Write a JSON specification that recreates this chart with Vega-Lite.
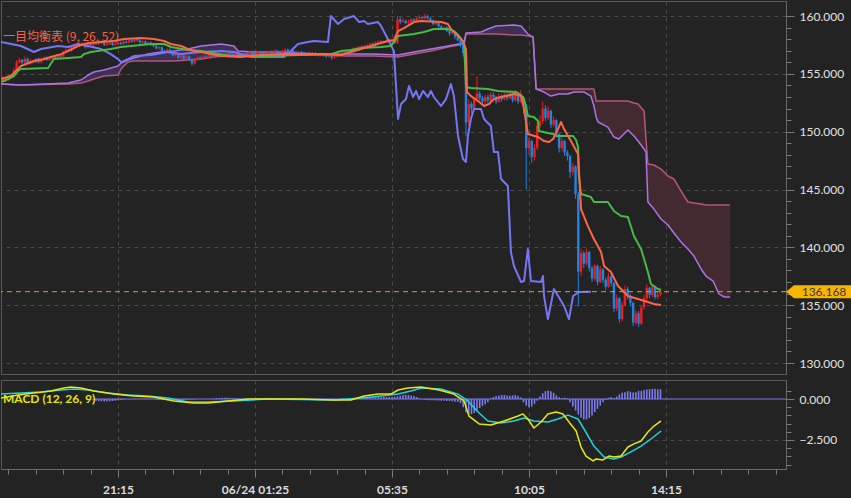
{
"$schema": "https://vega.github.io/schema/vega-lite/v6.json",
"background": "#232323",
"padding": {"left": 0, "top": 0, "right": 1, "bottom": 2},
"spacing": 6,
"bounds": "flush",
"config": {
  "view": {"stroke": "#5a5a5a", "strokeWidth": 1},
  "axis": {"labelFont": "Lato", "labelFontSize": 12, "labelColor": "#e2e2e2", "domainColor": "#6a6a6a", "tickColor": "#7a7a7a", "gridColor": "#4a4a4a", "gridDash": [4, 4], "gridWidth": 1},
  "line": {"strokeJoin": "round", "clip": true},
  "area": {"clip": true},
  "rule": {"clip": true}
},
"datasets": {
"candles": [
{"i":-42,"o":154.3,"h":154.8,"l":154.2,"c":154.6},{"i":-41,"o":154.6,"h":154.7,"l":154.3,"c":154.5},{"i":-40,"o":154.5,"h":154.9,"l":154.4,"c":154.7},{"i":-39,"o":154.7,"h":155.0,"l":154.6,"c":154.9},{"i":-38,"o":154.9,"h":155.5,"l":154.8,"c":155.3},{"i":-37,"o":155.3,"h":156.2,"l":155.2,"c":156.0},{"i":-36,"o":156.0,"h":156.4,"l":155.9,"c":156.2},{"i":-35,"o":156.2,"h":156.3,"l":155.8,"c":156.0},{"i":-34,"o":156.0,"h":156.5,"l":155.9,"c":156.3},{"i":-33,"o":156.3,"h":156.4,"l":155.8,"c":155.9},
{"i":-32,"o":155.9,"h":156.3,"l":155.8,"c":156.1},{"i":-31,"o":156.1,"h":156.2,"l":155.9,"c":156.0},{"i":-30,"o":156.0,"h":156.4,"l":155.9,"c":156.3},{"i":-29,"o":156.3,"h":156.4,"l":155.9,"c":156.0},{"i":-28,"o":156.0,"h":156.3,"l":155.9,"c":156.2},{"i":-27,"o":156.2,"h":156.5,"l":156.1,"c":156.4},{"i":-26,"o":156.4,"h":156.5,"l":156.1,"c":156.2},{"i":-25,"o":156.2,"h":156.4,"l":156.1,"c":156.3},{"i":-24,"o":156.3,"h":156.6,"l":156.2,"c":156.5},{"i":-23,"o":156.5,"h":156.6,"l":156.3,"c":156.4},
{"i":-22,"o":156.4,"h":156.7,"l":156.3,"c":156.6},{"i":-21,"o":156.6,"h":156.7,"l":156.4,"c":156.5},{"i":-20,"o":156.5,"h":157.0,"l":156.4,"c":156.9},{"i":-19,"o":156.9,"h":157.2,"l":156.8,"c":157.1},{"i":-18,"o":157.1,"h":157.2,"l":156.9,"c":157.0},{"i":-17,"o":157.0,"h":157.4,"l":156.9,"c":157.3},{"i":-16,"o":157.3,"h":157.6,"l":157.2,"c":157.5},{"i":-15,"o":157.5,"h":157.6,"l":157.3,"c":157.4},{"i":-14,"o":157.4,"h":157.7,"l":157.3,"c":157.6},{"i":-13,"o":157.6,"h":157.7,"l":157.4,"c":157.5},
{"i":-12,"o":157.5,"h":157.6,"l":157.2,"c":157.3},{"i":-11,"o":157.3,"h":157.7,"l":157.2,"c":157.6},{"i":-10,"o":157.6,"h":157.7,"l":157.4,"c":157.5},{"i":-9,"o":157.5,"h":157.8,"l":157.4,"c":157.7},{"i":-8,"o":157.7,"h":157.8,"l":157.5,"c":157.6},{"i":-7,"o":157.6,"h":157.9,"l":157.5,"c":157.8},{"i":-6,"o":157.8,"h":157.9,"l":157.6,"c":157.7},{"i":-5,"o":157.7,"h":157.8,"l":157.4,"c":157.5},{"i":-4,"o":157.5,"h":157.7,"l":157.4,"c":157.6},{"i":-3,"o":157.6,"h":157.8,"l":157.5,"c":157.7},
{"i":-2,"o":157.7,"h":157.8,"l":157.4,"c":157.5},{"i":-1,"o":157.5,"h":157.7,"l":157.4,"c":157.6},{"i":0,"o":157.6,"h":157.8,"l":157.5,"c":157.7},{"i":1,"o":157.7,"h":157.8,"l":157.5,"c":157.6},{"i":2,"o":157.6,"h":157.9,"l":157.5,"c":157.8},{"i":3,"o":157.8,"h":157.9,"l":157.6,"c":157.7},{"i":4,"o":157.7,"h":158.0,"l":157.6,"c":157.9},{"i":5,"o":157.9,"h":158.0,"l":157.7,"c":157.8},{"i":6,"o":157.8,"h":158.1,"l":157.7,"c":158.0},{"i":7,"o":158.0,"h":158.1,"l":157.8,"c":157.9},
{"i":8,"o":157.9,"h":158.0,"l":157.6,"c":157.7},{"i":9,"o":157.7,"h":157.9,"l":157.6,"c":157.8},{"i":10,"o":157.8,"h":157.9,"l":157.5,"c":157.6},{"i":11,"o":157.6,"h":157.8,"l":157.5,"c":157.7},{"i":12,"o":157.7,"h":157.8,"l":157.4,"c":157.5},{"i":13,"o":157.5,"h":157.6,"l":157.3,"c":157.4},{"i":14,"o":157.4,"h":157.5,"l":157.1,"c":157.2},{"i":15,"o":157.2,"h":157.4,"l":157.1,"c":157.3},{"i":16,"o":157.3,"h":157.4,"l":156.9,"c":157.0},{"i":17,"o":157.0,"h":157.1,"l":156.8,"c":156.9},
{"i":18,"o":156.9,"h":157.2,"l":156.8,"c":157.1},{"i":19,"o":157.1,"h":157.2,"l":156.7,"c":156.8},{"i":20,"o":156.8,"h":156.9,"l":156.5,"c":156.6},{"i":21,"o":156.6,"h":156.8,"l":156.5,"c":156.7},{"i":22,"o":156.7,"h":156.8,"l":156.3,"c":156.4},{"i":23,"o":156.4,"h":156.7,"l":156.3,"c":156.6},{"i":24,"o":156.6,"h":156.7,"l":156.2,"c":156.3},{"i":25,"o":156.3,"h":156.6,"l":156.2,"c":156.5},{"i":26,"o":156.5,"h":156.6,"l":156.1,"c":156.2},{"i":27,"o":156.2,"h":156.3,"l":155.7,"c":155.9},
{"i":28,"o":155.9,"h":156.3,"l":155.8,"c":156.2},{"i":29,"o":156.2,"h":156.5,"l":156.1,"c":156.4},{"i":30,"o":156.4,"h":156.5,"l":156.2,"c":156.3},{"i":31,"o":156.3,"h":156.6,"l":156.2,"c":156.5},{"i":32,"o":156.5,"h":156.6,"l":156.3,"c":156.4},{"i":33,"o":156.4,"h":156.7,"l":156.3,"c":156.6},{"i":34,"o":156.6,"h":156.7,"l":156.4,"c":156.5},{"i":35,"o":156.5,"h":156.8,"l":156.4,"c":156.7},{"i":36,"o":156.7,"h":156.8,"l":156.5,"c":156.6},{"i":37,"o":156.6,"h":156.7,"l":156.4,"c":156.5},
{"i":38,"o":156.5,"h":156.8,"l":156.4,"c":156.7},{"i":39,"o":156.7,"h":156.8,"l":156.5,"c":156.6},{"i":40,"o":156.6,"h":156.9,"l":156.5,"c":156.8},{"i":41,"o":156.8,"h":156.9,"l":156.6,"c":156.7},{"i":42,"o":156.7,"h":156.8,"l":156.5,"c":156.6},{"i":43,"o":156.6,"h":156.9,"l":156.5,"c":156.8},{"i":44,"o":156.8,"h":156.9,"l":156.6,"c":156.7},{"i":45,"o":156.7,"h":156.8,"l":156.5,"c":156.6},{"i":46,"o":156.6,"h":156.9,"l":156.5,"c":156.8},{"i":47,"o":156.8,"h":156.9,"l":156.6,"c":156.7},
{"i":48,"o":156.7,"h":157.0,"l":156.6,"c":156.9},{"i":49,"o":156.9,"h":157.0,"l":156.7,"c":156.8},{"i":50,"o":156.8,"h":156.9,"l":156.6,"c":156.7},{"i":51,"o":156.7,"h":157.0,"l":156.6,"c":156.9},{"i":52,"o":156.9,"h":157.0,"l":156.7,"c":156.8},{"i":53,"o":156.8,"h":156.9,"l":156.6,"c":156.7},{"i":54,"o":156.7,"h":156.9,"l":156.6,"c":156.8},{"i":55,"o":156.8,"h":157.0,"l":156.7,"c":156.9},{"i":56,"o":156.9,"h":157.0,"l":156.7,"c":156.8},{"i":57,"o":156.8,"h":157.1,"l":156.7,"c":157.0},
{"i":58,"o":157.0,"h":157.1,"l":156.8,"c":156.9},{"i":59,"o":156.9,"h":157.0,"l":156.7,"c":156.8},{"i":60,"o":156.8,"h":157.1,"l":156.7,"c":157.0},{"i":61,"o":157.0,"h":157.2,"l":156.9,"c":157.1},{"i":62,"o":157.1,"h":157.2,"l":156.8,"c":156.9},{"i":63,"o":156.9,"h":157.1,"l":156.8,"c":157.0},{"i":64,"o":157.0,"h":157.1,"l":156.8,"c":156.9},{"i":65,"o":156.9,"h":157.0,"l":156.7,"c":156.8},{"i":66,"o":156.8,"h":157.0,"l":156.7,"c":156.9},{"i":67,"o":156.9,"h":157.0,"l":156.7,"c":156.8},
{"i":68,"o":156.8,"h":156.9,"l":156.6,"c":156.7},{"i":69,"o":156.7,"h":156.9,"l":156.6,"c":156.8},{"i":70,"o":156.8,"h":156.9,"l":156.6,"c":156.7},{"i":71,"o":156.7,"h":156.9,"l":156.6,"c":156.8},{"i":72,"o":156.8,"h":156.9,"l":156.6,"c":156.7},{"i":73,"o":156.7,"h":156.8,"l":156.5,"c":156.6},{"i":74,"o":156.6,"h":156.8,"l":156.5,"c":156.7},{"i":75,"o":156.7,"h":156.8,"l":156.5,"c":156.6},{"i":76,"o":156.6,"h":156.7,"l":156.4,"c":156.5},{"i":77,"o":156.5,"h":156.7,"l":156.4,"c":156.6},
{"i":78,"o":156.6,"h":156.7,"l":156.2,"c":156.4},{"i":79,"o":156.4,"h":156.6,"l":156.3,"c":156.5},{"i":80,"o":156.5,"h":156.7,"l":156.4,"c":156.6},{"i":81,"o":156.6,"h":156.9,"l":156.5,"c":156.8},{"i":82,"o":156.8,"h":156.9,"l":156.6,"c":156.7},{"i":83,"o":156.7,"h":157.0,"l":156.6,"c":156.9},{"i":84,"o":156.9,"h":157.0,"l":156.7,"c":156.8},{"i":85,"o":156.8,"h":157.1,"l":156.7,"c":157.0},{"i":86,"o":157.0,"h":157.3,"l":156.9,"c":157.2},{"i":87,"o":157.2,"h":157.3,"l":157.0,"c":157.1},
{"i":88,"o":157.1,"h":157.4,"l":157.0,"c":157.3},{"i":89,"o":157.3,"h":157.5,"l":157.2,"c":157.4},{"i":90,"o":157.4,"h":157.5,"l":157.2,"c":157.3},{"i":91,"o":157.3,"h":157.6,"l":157.2,"c":157.5},{"i":92,"o":157.5,"h":157.7,"l":157.4,"c":157.6},{"i":93,"o":157.6,"h":157.7,"l":157.4,"c":157.5},{"i":94,"o":157.5,"h":157.8,"l":157.4,"c":157.7},{"i":95,"o":157.7,"h":157.9,"l":157.6,"c":157.8},{"i":96,"o":157.8,"h":157.9,"l":157.6,"c":157.7},{"i":97,"o":157.7,"h":157.9,"l":157.6,"c":157.8},
{"i":98,"o":157.8,"h":158.0,"l":157.7,"c":157.9},{"i":99,"o":157.9,"h":158.0,"l":157.7,"c":157.8},{"i":100,"o":157.8,"h":158.0,"l":157.7,"c":157.9},{"i":101,"o":157.9,"h":158.0,"l":157.6,"c":157.7},{"i":102,"o":157.7,"h":160.0,"l":157.6,"c":159.7},{"i":103,"o":159.7,"h":159.9,"l":159.3,"c":159.5},{"i":104,"o":159.5,"h":159.8,"l":159.4,"c":159.6},{"i":105,"o":159.6,"h":159.7,"l":159.3,"c":159.4},{"i":106,"o":159.4,"h":159.7,"l":159.3,"c":159.5},{"i":107,"o":159.5,"h":159.8,"l":159.4,"c":159.7},
{"i":108,"o":159.7,"h":159.8,"l":159.5,"c":159.6},{"i":109,"o":159.6,"h":159.9,"l":159.5,"c":159.8},{"i":110,"o":159.8,"h":160.1,"l":159.7,"c":159.9},{"i":111,"o":159.9,"h":160.0,"l":159.7,"c":159.8},{"i":112,"o":159.8,"h":160.2,"l":159.7,"c":160.0},{"i":113,"o":160.0,"h":160.1,"l":159.7,"c":159.8},{"i":114,"o":159.8,"h":159.9,"l":159.5,"c":159.6},{"i":115,"o":159.6,"h":159.7,"l":159.2,"c":159.3},{"i":116,"o":159.3,"h":159.5,"l":159.2,"c":159.4},{"i":117,"o":159.4,"h":159.5,"l":159.0,"c":159.1},
{"i":118,"o":159.1,"h":159.2,"l":158.8,"c":158.9},{"i":119,"o":158.9,"h":159.1,"l":158.8,"c":159.0},{"i":120,"o":159.0,"h":159.1,"l":158.6,"c":158.7},{"i":121,"o":158.7,"h":158.8,"l":158.3,"c":158.5},{"i":122,"o":158.5,"h":158.7,"l":158.4,"c":158.6},{"i":123,"o":158.6,"h":158.7,"l":158.0,"c":158.2},{"i":124,"o":158.2,"h":158.3,"l":157.8,"c":157.9},{"i":125,"o":157.9,"h":158.0,"l":157.3,"c":157.6},{"i":126,"o":157.6,"h":157.7,"l":156.5,"c":156.8},{"i":127,"o":156.8,"h":156.9,"l":149.6,"c":150.8},
{"i":128,"o":150.8,"h":152.8,"l":150.5,"c":152.4},{"i":129,"o":152.4,"h":152.6,"l":151.6,"c":152.0},{"i":130,"o":152.0,"h":153.0,"l":151.8,"c":152.8},{"i":131,"o":152.8,"h":154.8,"l":152.6,"c":153.3},{"i":132,"o":153.3,"h":153.5,"l":152.7,"c":152.9},{"i":133,"o":152.9,"h":153.1,"l":152.3,"c":152.6},{"i":134,"o":152.6,"h":153.2,"l":152.4,"c":153.0},{"i":135,"o":153.0,"h":153.2,"l":152.5,"c":152.7},{"i":136,"o":152.7,"h":153.4,"l":152.6,"c":153.2},{"i":137,"o":153.2,"h":153.4,"l":152.8,"c":153.0},
{"i":138,"o":153.0,"h":153.1,"l":152.4,"c":152.6},{"i":139,"o":152.6,"h":153.3,"l":152.5,"c":153.1},{"i":140,"o":153.1,"h":153.2,"l":152.6,"c":152.8},{"i":141,"o":152.8,"h":153.4,"l":152.7,"c":153.2},{"i":142,"o":153.2,"h":153.3,"l":152.7,"c":152.9},{"i":143,"o":152.9,"h":153.5,"l":152.8,"c":153.3},{"i":144,"o":153.3,"h":153.4,"l":152.5,"c":152.7},{"i":145,"o":152.7,"h":153.6,"l":152.6,"c":153.4},{"i":146,"o":153.4,"h":153.5,"l":152.4,"c":152.6},{"i":147,"o":152.6,"h":153.6,"l":152.5,"c":153.0},
{"i":148,"o":153.0,"h":153.1,"l":151.6,"c":152.3},{"i":149,"o":152.3,"h":152.4,"l":145.0,"c":148.6},{"i":150,"o":148.6,"h":149.5,"l":148.0,"c":149.2},{"i":151,"o":149.2,"h":149.3,"l":147.3,"c":147.8},{"i":152,"o":147.8,"h":148.9,"l":147.5,"c":148.6},{"i":153,"o":148.6,"h":150.8,"l":148.4,"c":150.5},{"i":154,"o":150.5,"h":151.4,"l":150.3,"c":150.9},{"i":155,"o":150.9,"h":152.6,"l":150.7,"c":152.0},{"i":156,"o":152.0,"h":152.3,"l":150.9,"c":151.2},{"i":157,"o":151.2,"h":152.2,"l":151.0,"c":151.8},
{"i":158,"o":151.8,"h":151.9,"l":150.3,"c":150.6},{"i":159,"o":150.6,"h":151.3,"l":150.4,"c":151.0},{"i":160,"o":151.0,"h":151.1,"l":149.5,"c":149.8},{"i":161,"o":149.8,"h":149.9,"l":148.2,"c":148.6},{"i":162,"o":148.6,"h":149.5,"l":148.3,"c":149.2},{"i":163,"o":149.2,"h":149.3,"l":147.9,"c":148.2},{"i":164,"o":148.2,"h":148.4,"l":147.5,"c":147.9},{"i":165,"o":147.9,"h":148.0,"l":146.0,"c":146.5},{"i":166,"o":146.5,"h":147.3,"l":146.2,"c":147.0},{"i":167,"o":147.0,"h":147.1,"l":144.2,"c":144.6},
{"i":168,"o":144.6,"h":144.8,"l":134.9,"c":137.9},{"i":169,"o":137.9,"h":139.9,"l":137.5,"c":139.5},{"i":170,"o":139.5,"h":139.7,"l":138.2,"c":138.6},{"i":171,"o":138.6,"h":139.9,"l":138.4,"c":139.6},{"i":172,"o":139.6,"h":139.7,"l":137.9,"c":138.2},{"i":173,"o":138.2,"h":138.4,"l":137.0,"c":137.3},{"i":174,"o":137.3,"h":138.6,"l":137.1,"c":138.4},{"i":175,"o":138.4,"h":138.5,"l":136.7,"c":137.0},{"i":176,"o":137.0,"h":138.4,"l":136.9,"c":138.1},{"i":177,"o":138.1,"h":138.2,"l":136.9,"c":137.2},
{"i":178,"o":137.2,"h":137.4,"l":136.3,"c":136.6},{"i":179,"o":136.6,"h":137.8,"l":136.5,"c":137.5},{"i":180,"o":137.5,"h":137.7,"l":136.6,"c":136.9},{"i":181,"o":136.9,"h":137.0,"l":134.4,"c":134.7},{"i":182,"o":134.7,"h":135.9,"l":134.5,"c":135.6},{"i":183,"o":135.6,"h":135.7,"l":133.5,"c":133.8},{"i":184,"o":133.8,"h":135.3,"l":133.6,"c":135.0},{"i":185,"o":135.0,"h":136.7,"l":134.9,"c":136.4},{"i":186,"o":136.4,"h":136.6,"l":135.5,"c":135.8},{"i":187,"o":135.8,"h":136.0,"l":134.9,"c":135.2},
{"i":188,"o":135.2,"h":135.3,"l":133.2,"c":133.5},{"i":189,"o":133.5,"h":134.6,"l":133.3,"c":134.3},{"i":190,"o":134.3,"h":134.5,"l":133.1,"c":133.4},{"i":191,"o":133.4,"h":135.0,"l":133.3,"c":134.8},{"i":192,"o":134.8,"h":135.9,"l":134.6,"c":135.6},{"i":193,"o":135.6,"h":136.8,"l":135.4,"c":136.5},{"i":194,"o":136.5,"h":136.6,"l":135.6,"c":135.9},{"i":195,"o":135.9,"h":136.8,"l":135.7,"c":136.6},{"i":196,"o":136.6,"h":136.7,"l":135.5,"c":135.7},{"i":197,"o":135.7,"h":136.2,"l":135.5,"c":135.9},
{"i":198,"o":135.9,"h":136.3,"l":135.8,"c":136.168}
],
"tenkan": [
{"i":-42.7,"p":154.55},{"i":-39.1,"p":154.81},{"i":-35.4,"p":155.68},{"i":-30.7,"p":156.11},{"i":-27.0,"p":156.28},{"i":-24.5,"p":156.46},{"i":-20.8,"p":156.71},{"i":-18.2,"p":156.97},{"i":-14.6,"p":157.41},{"i":-10.9,"p":157.67},{"i":-6.2,"p":157.75},{"i":-1.5,"p":157.84},{"i":2.2,"p":158.01},{"i":8.4,"p":158.10},{"i":13.1,"p":158.01},{"i":16.8,"p":157.84},{"i":19.3,"p":157.58},{"i":23.0,"p":157.41},{"i":25.5,"p":157.15},{"i":27.7,"p":156.97},{"i":30.3,"p":156.89},{"i":37.6,"p":156.54},{"i":44.9,"p":156.46},{"i":52.2,"p":156.63},{"i":59.5,"p":156.71},{"i":74.1,"p":156.71},{"i":81.4,"p":156.63},{"i":85.0,"p":156.89},{"i":88.7,"p":157.15},{"i":92.3,"p":157.41},{"i":96.0,"p":157.67},{"i":98.5,"p":157.84},{"i":100.7,"p":157.93},{"i":102.2,"p":158.70},{"i":104.4,"p":158.96},{"i":108.0,"p":159.48},{"i":110.6,"p":159.57},{"i":117.9,"p":159.48},{"i":120.4,"p":159.31},{"i":121.5,"p":158.88},{"i":124.1,"p":158.27},{"i":125.9,"p":157.84},{"i":127.0,"p":157.15},{"i":127.4,"p":153.43},{"i":128.8,"p":153.08},{"i":131.4,"p":152.65},{"i":133.6,"p":152.22},{"i":135.4,"p":152.39},{"i":137.2,"p":152.82},{"i":139.8,"p":153.00},{"i":144.5,"p":153.26},{"i":147.1,"p":153.08},{"i":148.2,"p":151.96},{"i":149.6,"p":149.80},{"i":153.3,"p":149.54},{"i":155.5,"p":149.19},{"i":157.3,"p":149.11},{"i":158.8,"p":149.37},{"i":160.6,"p":150.23},{"i":161.7,"p":150.84},{"i":162.8,"p":150.23},{"i":165.3,"p":149.19},{"i":167.9,"p":148.07},{"i":169.0,"p":143.31},{"i":171.5,"p":141.84},{"i":173.7,"p":140.72},{"i":176.3,"p":139.60},{"i":177.4,"p":138.39},{"i":179.9,"p":137.87},{"i":182.5,"p":136.66},{"i":186.1,"p":135.79},{"i":189.8,"p":135.53},{"i":193.4,"p":135.27},{"i":195.6,"p":135.10},{"i":198.2,"p":135.02}
],
"kijun": [
{"i":-42.7,"p":154.29},{"i":-40.1,"p":154.55},{"i":-38.0,"p":154.81},{"i":-36.5,"p":155.25},{"i":-35.4,"p":155.42},{"i":-25.5,"p":155.50},{"i":-23.4,"p":156.28},{"i":-18.2,"p":156.37},{"i":-13.5,"p":156.46},{"i":-12.4,"p":156.71},{"i":-9.9,"p":156.89},{"i":-2.6,"p":157.15},{"i":1.1,"p":157.32},{"i":12.0,"p":157.58},{"i":16.8,"p":157.58},{"i":19.3,"p":157.32},{"i":25.5,"p":157.06},{"i":30.3,"p":156.97},{"i":41.2,"p":156.54},{"i":52.2,"p":156.54},{"i":66.8,"p":156.63},{"i":77.7,"p":156.71},{"i":81.4,"p":156.97},{"i":85.0,"p":157.06},{"i":88.7,"p":157.23},{"i":96.0,"p":157.32},{"i":99.6,"p":157.41},{"i":101.5,"p":158.01},{"i":102.2,"p":158.27},{"i":108.0,"p":158.44},{"i":111.7,"p":158.62},{"i":115.3,"p":158.88},{"i":120.4,"p":158.88},{"i":122.6,"p":158.70},{"i":124.5,"p":158.27},{"i":126.3,"p":157.67},{"i":127.0,"p":153.86},{"i":128.8,"p":153.78},{"i":135.0,"p":153.69},{"i":138.7,"p":153.52},{"i":145.3,"p":153.43},{"i":147.1,"p":153.17},{"i":148.2,"p":152.82},{"i":149.6,"p":151.35},{"i":151.8,"p":151.27},{"i":153.3,"p":150.92},{"i":153.6,"p":150.06},{"i":156.9,"p":149.88},{"i":158.8,"p":149.80},{"i":159.9,"p":149.63},{"i":166.1,"p":149.63},{"i":167.2,"p":149.28},{"i":167.9,"p":148.67},{"i":168.2,"p":146.17},{"i":169.0,"p":144.61},{"i":172.6,"p":144.35},{"i":173.7,"p":143.92},{"i":178.8,"p":143.92},{"i":181.0,"p":143.14},{"i":183.6,"p":142.71},{"i":186.1,"p":142.62},{"i":188.3,"p":140.98},{"i":190.9,"p":139.86},{"i":192.0,"p":138.99},{"i":193.4,"p":137.87},{"i":194.5,"p":136.83},{"i":197.1,"p":136.40},{"i":198.2,"p":136.31}
],
"chikou": [
{"i":-42.7,"p":157.75},{"i":-35.4,"p":157.41},{"i":-30.7,"p":156.89},{"i":-28.1,"p":157.15},{"i":-21.9,"p":157.41},{"i":-18.2,"p":157.32},{"i":-14.6,"p":157.58},{"i":-10.9,"p":157.41},{"i":-6.2,"p":157.15},{"i":-2.6,"p":156.71},{"i":0,"p":156.28},{"i":1.1,"p":156.02},{"i":3.6,"p":156.28},{"i":5.8,"p":156.54},{"i":12.0,"p":156.63},{"i":18.2,"p":156.89},{"i":23.0,"p":156.71},{"i":30.3,"p":156.89},{"i":37.6,"p":156.97},{"i":42.3,"p":156.89},{"i":48.5,"p":156.46},{"i":60.6,"p":156.46},{"i":63.1,"p":156.97},{"i":65.7,"p":157.58},{"i":69.3,"p":157.75},{"i":71.5,"p":157.84},{"i":76.6,"p":157.75},{"i":77.7,"p":160.00},{"i":80.3,"p":159.31},{"i":82.5,"p":159.74},{"i":86.1,"p":160.00},{"i":88.0,"p":159.48},{"i":89.8,"p":159.57},{"i":91.2,"p":159.31},{"i":94.9,"p":159.48},{"i":96.0,"p":159.14},{"i":98.5,"p":158.01},{"i":100.7,"p":156.97},{"i":102.2,"p":151.10},{"i":103.3,"p":152.39},{"i":105.1,"p":152.82},{"i":106.2,"p":153.95},{"i":107.7,"p":153.00},{"i":108.8,"p":153.52},{"i":109.9,"p":152.82},{"i":111.3,"p":153.52},{"i":113.1,"p":153.00},{"i":114.2,"p":153.52},{"i":115.3,"p":153.00},{"i":117.9,"p":152.22},{"i":119.7,"p":152.82},{"i":121.5,"p":154.12},{"i":122.6,"p":153.08},{"i":124.1,"p":149.63},{"i":125.9,"p":147.64},{"i":127.0,"p":147.38},{"i":127.7,"p":149.63},{"i":128.8,"p":151.10},{"i":129.9,"p":151.96},{"i":132.5,"p":151.96},{"i":133.6,"p":151.10},{"i":136.1,"p":150.49},{"i":137.2,"p":148.24},{"i":138.7,"p":148.24},{"i":139.8,"p":145.91},{"i":142.3,"p":145.30},{"i":143.4,"p":139.60},{"i":144.5,"p":138.39},{"i":147.1,"p":137.00},{"i":148.2,"p":137.09},{"i":149.6,"p":139.86},{"i":150.7,"p":137.09},{"i":154.4,"p":137.00},{"i":155.1,"p":137.52},{"i":155.5,"p":135.79},{"i":156.9,"p":133.80},{"i":159.1,"p":136.40},{"i":162.8,"p":134.93},{"i":164.6,"p":133.80},{"i":166.1,"p":135.79},{"i":168.2,"p":136.14},{"i":172.6,"p":136.17}
],
"cloud": [
{"i":-42.7,"a":154.12,"b":154.12,"k":"up"},{"i":-35.4,"a":154.03,"b":154.03,"k":"up"},{"i":-18.2,"a":154.21,"b":154.12,"k":"up"},{"i":-13.5,"a":154.47,"b":154.21,"k":"up"},{"i":-10.9,"a":154.90,"b":154.38,"k":"up"},{"i":-8.8,"a":155.16,"b":154.55,"k":"up"},{"i":-5.1,"a":155.33,"b":154.81,"k":"up"},{"i":0,"a":155.68,"b":154.90,"k":"up"},{"i":1.1,"a":155.94,"b":155.42,"k":"up"},{"i":3.6,"a":156.20,"b":156.02,"k":"up"},{"i":5.8,"a":156.37,"b":156.11,"k":"up"},{"i":10.9,"a":156.71,"b":156.11,"k":"up"},{"i":15.7,"a":156.89,"b":156.11,"k":"up"},{"i":20.4,"a":156.97,"b":156.11,"k":"up"},{"i":25.5,"a":157.15,"b":156.20,"k":"up"},{"i":30.3,"a":157.41,"b":156.28,"k":"up"},{"i":37.6,"a":157.58,"b":156.54,"k":"up"},{"i":42.3,"a":157.41,"b":156.63,"k":"up"},{"i":43.8,"a":156.97,"b":156.63,"k":"up"},{"i":49.6,"a":156.89,"b":156.71,"k":"up"},{"i":60.6,"a":156.89,"b":156.63,"k":"up"},{"i":73.0,"a":156.71,"b":156.63,"k":"up"},{"i":83.9,"a":156.71,"b":156.54,"k":"up"},{"i":93.4,"a":156.71,"b":156.54,"k":"up"},{"i":102.2,"a":156.63,"b":156.46,"k":"up"},{"i":108.0,"a":156.89,"b":156.71,"k":"up"},{"i":114.2,"a":157.15,"b":156.97,"k":"up"},{"i":120.4,"a":157.41,"b":157.32,"k":"up"},{"i":126.3,"a":157.67,"b":157.58,"k":"up"},{"i":127.0,"a":158.53,"b":158.44,"k":"up"},{"i":132.5,"a":158.62,"b":158.44,"k":"up"},{"i":135.0,"a":158.88,"b":158.44,"k":"up"},{"i":138.0,"a":159.14,"b":158.44,"k":"up"},{"i":144.5,"a":159.22,"b":158.36,"k":"up"},{"i":147.1,"a":159.14,"b":158.36,"k":"up"},{"i":149.6,"a":158.44,"b":158.27,"k":"up"},{"i":151.5,"a":158.18,"b":158.18,"k":"up"},
{"i":151.5,"a":158.18,"b":158.18,"k":"dn"},{"i":152.6,"a":153.69,"b":153.69,"k":"dn"},{"i":155.5,"a":153.43,"b":153.69,"k":"dn"},{"i":158.0,"a":153.08,"b":153.69,"k":"dn"},{"i":160.9,"a":153.26,"b":153.69,"k":"dn"},{"i":164.2,"a":153.26,"b":153.69,"k":"dn"},{"i":166.4,"a":153.43,"b":153.69,"k":"dn"},{"i":170.1,"a":153.43,"b":153.69,"k":"dn"},{"i":172.6,"a":153.08,"b":153.69,"k":"dn"},{"i":173.7,"a":152.22,"b":153.69,"k":"dn"},{"i":174.5,"a":151.27,"b":152.65,"k":"dn"},{"i":175.2,"a":150.84,"b":152.65,"k":"dn"},{"i":178.8,"a":150.40,"b":152.65,"k":"dn"},{"i":181.0,"a":149.54,"b":152.65,"k":"dn"},{"i":182.8,"a":149.37,"b":152.65,"k":"dn"},{"i":186.1,"a":150.14,"b":152.65,"k":"dn"},{"i":188.3,"a":149.63,"b":152.48,"k":"dn"},{"i":189.8,"a":149.19,"b":152.39,"k":"dn"},{"i":192.0,"a":148.50,"b":151.79,"k":"dn"},{"i":192.7,"a":148.24,"b":149.37,"k":"dn"},{"i":193.4,"a":143.92,"b":147.20,"k":"dn"},{"i":195.6,"a":143.31,"b":147.12,"k":"dn"},{"i":198.2,"a":142.45,"b":146.77,"k":"dn"},{"i":200.7,"a":141.93,"b":146.17,"k":"dn"},{"i":202.9,"a":141.24,"b":145.91,"k":"dn"},{"i":205.5,"a":140.46,"b":144.87,"k":"dn"},{"i":208.0,"a":139.86,"b":143.92,"k":"dn"},{"i":210.2,"a":139.25,"b":143.83,"k":"dn"},{"i":212.8,"a":138.13,"b":143.75,"k":"dn"},{"i":214.6,"a":137.52,"b":143.66,"k":"dn"},{"i":217.2,"a":137.09,"b":143.66,"k":"dn"},{"i":219.3,"a":135.97,"b":143.66,"k":"dn"},{"i":221.2,"a":135.71,"b":143.66,"k":"dn"},{"i":223.4,"a":135.71,"b":143.66,"k":"dn"}
],
"macd": [
{"i":-42.7,"v":0.06},{"i":-36.5,"v":0.24},{"i":-30.7,"v":0.37},{"i":-24.5,"v":0.49},{"i":-19.7,"v":0.67},{"i":-17.2,"v":0.73},{"i":-13.5,"v":0.67},{"i":-8.8,"v":0.49},{"i":-1.5,"v":0.30},{"i":5.8,"v":0.18},{"i":13.1,"v":0.12},{"i":20.4,"v":-0.12},{"i":27.7,"v":-0.24},{"i":32.8,"v":-0.24},{"i":40.1,"v":-0.12},{"i":47.4,"v":0},{"i":66.8,"v":0},{"i":78.8,"v":-0.06},{"i":85.0,"v":-0.06},{"i":89.8,"v":0.18},{"i":94.9,"v":0.30},{"i":99.6,"v":0.30},{"i":102.2,"v":0.55},{"i":105.8,"v":0.67},{"i":110.6,"v":0.73},{"i":117.2,"v":0.55},{"i":122.6,"v":0.30},{"i":126.3,"v":-0.12},{"i":128.1,"v":-1.04},{"i":131.8,"v":-1.52},{"i":136.1,"v":-1.59},{"i":140.9,"v":-1.34},{"i":146.0,"v":-1.04},{"i":147.8,"v":-0.91},{"i":149.6,"v":-1.22},{"i":151.8,"v":-1.77},{"i":154.4,"v":-1.40},{"i":156.9,"v":-0.91},{"i":159.9,"v":-0.79},{"i":162.4,"v":-0.91},{"i":164.6,"v":-1.40},{"i":167.2,"v":-1.95},{"i":169.0,"v":-2.93},{"i":170.8,"v":-3.48},{"i":173.4,"v":-3.78},{"i":174.5,"v":-3.66},{"i":177.0,"v":-3.72},{"i":179.2,"v":-3.48},{"i":181.0,"v":-3.54},{"i":183.6,"v":-3.48},{"i":186.1,"v":-2.93},{"i":188.3,"v":-2.74},{"i":190.9,"v":-2.56},{"i":193.4,"v":-2.01},{"i":195.6,"v":-1.65},{"i":198.2,"v":-1.34}
],
"sig": [
{"i":-42.7,"v":0.30},{"i":-35.4,"v":0.37},{"i":-28.1,"v":0.43},{"i":-20.8,"v":0.55},{"i":-16.1,"v":0.61},{"i":-10.9,"v":0.55},{"i":-3.6,"v":0.37},{"i":3.6,"v":0.24},{"i":10.9,"v":0.18},{"i":18.2,"v":0.06},{"i":25.5,"v":-0.18},{"i":32.8,"v":-0.18},{"i":42.3,"v":-0.12},{"i":54.7,"v":0},{"i":78.8,"v":-0.06},{"i":88.7,"v":0.06},{"i":96.0,"v":0.18},{"i":102.2,"v":0.30},{"i":106.9,"v":0.49},{"i":110.6,"v":0.67},{"i":117.9,"v":0.61},{"i":124.1,"v":0.30},{"i":127.7,"v":-0.12},{"i":131.4,"v":-0.79},{"i":135.0,"v":-1.34},{"i":139.8,"v":-1.46},{"i":144.5,"v":-1.34},{"i":148.2,"v":-1.16},{"i":151.8,"v":-1.34},{"i":156.9,"v":-1.40},{"i":160.6,"v":-1.22},{"i":164.2,"v":-0.98},{"i":167.9,"v":-1.22},{"i":170.1,"v":-1.83},{"i":173.7,"v":-2.87},{"i":177.4,"v":-3.54},{"i":181.0,"v":-3.66},{"i":183.6,"v":-3.54},{"i":187.2,"v":-3.23},{"i":190.9,"v":-2.87},{"i":194.5,"v":-2.44},{"i":198.2,"v":-1.95}
],
"hist": [
{"i":-9,"v":-0.08},{"i":-8,"v":-0.1},{"i":-7,"v":-0.12},{"i":-6,"v":-0.14},{"i":-5,"v":-0.15},{"i":-4,"v":-0.15},{"i":-3,"v":-0.14},{"i":-2,"v":-0.12},{"i":-1,"v":-0.1},{"i":0,"v":-0.08},{"i":1,"v":-0.06},{"i":2,"v":-0.04},
{"i":14,"v":-0.04},{"i":15,"v":-0.05},{"i":16,"v":-0.06},{"i":17,"v":-0.07},{"i":18,"v":-0.08},{"i":19,"v":-0.08},{"i":20,"v":-0.09},{"i":21,"v":-0.09},{"i":22,"v":-0.08},{"i":23,"v":-0.07},{"i":24,"v":-0.06},{"i":25,"v":-0.05},{"i":26,"v":-0.04},{"i":27,"v":-0.03},{"i":28,"v":-0.02},
{"i":35,"v":0.03},{"i":36,"v":0.05},{"i":37,"v":0.06},{"i":38,"v":0.07},{"i":39,"v":0.08},{"i":40,"v":0.08},{"i":41,"v":0.07},{"i":42,"v":0.06},{"i":43,"v":0.05},{"i":44,"v":0.03},
{"i":86,"v":0.03},{"i":87,"v":0.04},{"i":88,"v":0.05},{"i":89,"v":0.06},{"i":90,"v":0.07},{"i":91,"v":0.08},{"i":92,"v":0.09},{"i":93,"v":0.1},{"i":94,"v":0.1},{"i":95,"v":0.11},{"i":96,"v":0.11},{"i":97,"v":0.12},{"i":98,"v":0.12},{"i":99,"v":0.13},{"i":100,"v":0.13},{"i":101,"v":0.14},
{"i":102,"v":0.16},{"i":103,"v":0.2},{"i":104,"v":0.24},{"i":105,"v":0.26},{"i":106,"v":0.25},{"i":107,"v":0.22},{"i":108,"v":0.18},{"i":109,"v":0.12},{"i":110,"v":0.06},
{"i":111,"v":-0.03},{"i":112,"v":-0.05},{"i":113,"v":-0.07},{"i":114,"v":-0.08},{"i":115,"v":-0.08},{"i":116,"v":-0.09},{"i":117,"v":-0.1},{"i":118,"v":-0.1},{"i":119,"v":-0.1},{"i":120,"v":-0.12},{"i":121,"v":-0.13},{"i":122,"v":-0.14},{"i":123,"v":-0.16},{"i":124,"v":-0.18},
{"i":125,"v":-0.25},{"i":126,"v":-0.5},{"i":127,"v":-0.8},{"i":128,"v":-0.92},{"i":129,"v":-0.92},{"i":130,"v":-0.85},{"i":131,"v":-0.72},{"i":132,"v":-0.55},{"i":133,"v":-0.42},{"i":134,"v":-0.32},{"i":135,"v":-0.2},
{"i":136,"v":0.05},{"i":137,"v":0.12},{"i":138,"v":0.18},{"i":139,"v":0.22},{"i":140,"v":0.25},{"i":141,"v":0.25},{"i":142,"v":0.22},{"i":143,"v":0.2},{"i":144,"v":0.22},{"i":145,"v":0.25},{"i":146,"v":0.2},{"i":147,"v":0.1},
{"i":148,"v":-0.2},{"i":149,"v":-0.4},{"i":150,"v":-0.5},{"i":151,"v":-0.45},{"i":152,"v":-0.3},{"i":153,"v":-0.1},
{"i":154,"v":0.15},{"i":155,"v":0.35},{"i":156,"v":0.48},{"i":157,"v":0.52},{"i":158,"v":0.48},{"i":159,"v":0.38},{"i":160,"v":0.22},{"i":161,"v":0.1},{"i":162,"v":0.05},{"i":163,"v":0.08},{"i":164,"v":0.04},
{"i":165,"v":-0.2},{"i":166,"v":-0.45},{"i":167,"v":-0.7},{"i":168,"v":-0.95},{"i":169,"v":-1.15},{"i":170,"v":-1.25},{"i":171,"v":-1.25},{"i":172,"v":-1.15},{"i":173,"v":-1.0},{"i":174,"v":-0.8},{"i":175,"v":-0.6},{"i":176,"v":-0.4},{"i":177,"v":-0.2},{"i":178,"v":-0.06},
{"i":179,"v":0.08},{"i":180,"v":0.12},{"i":181,"v":0.06},
{"i":182,"v":0.15},{"i":183,"v":0.28},{"i":184,"v":0.38},{"i":185,"v":0.42},{"i":186,"v":0.48},{"i":187,"v":0.45},{"i":188,"v":0.4},{"i":189,"v":0.42},{"i":190,"v":0.5},{"i":191,"v":0.5},{"i":192,"v":0.55},{"i":193,"v":0.58},{"i":194,"v":0.6},{"i":195,"v":0.62},{"i":196,"v":0.62},{"i":197,"v":0.6},{"i":198,"v":0.6}
]
},
"vconcat": [
{
"width": 785,
"height": 373,
"layer": [
{"data": {"name": "cloud"}, "mark": {"type": "area", "opacity": 1, "clip": true},
 "encoding": {
  "x": {"field": "i", "type": "quantitative", "title": null, "scale": {"domain": [-42.7, 243.8], "nice": false, "zero": false},
        "axis": {"values": [0, 50, 100, 150, 200], "tickCount": 200, "labels": false, "ticks": false, "domain": false, "grid": true, "title": null, "minExtent": 0, "maxExtent": 0}},
  "y": {"field": "a", "type": "quantitative", "title": null, "scale": {"domain": [129.05, 161.3], "nice": false, "zero": false},
        "axis": {"orient": "right", "tickCount": 200, "title": null, "values": [130,131,132,133,134,135,136,137,138,139,140,141,142,143,144,145,146,147,148,149,150,151,152,153,154,155,156,157,158,159,160],
                 "labelExpr": "datum.value % 5 === 0 ? format(datum.value, '.3f') : ''", "labelOverlap": false, "labelFlush": false, "labelPadding": 5,
                 "tickSize": {"condition": {"test": "datum.value % 5 === 0", "value": 8}, "value": 5},
                 "gridOpacity": {"condition": {"test": "datum.value % 5 === 0", "value": 1}, "value": 0}, "grid": true}},
  "y2": {"field": "b"},
  "color": {"field": "k", "type": "nominal", "scale": {"domain": ["up", "dn"], "range": ["#3d3050", "#432a30"]}, "legend": null}
 }},
{"data": {"name": "cloud"}, "mark": {"type": "line", "color": "#b3587c", "strokeWidth": 1.5, "clip": true},
 "encoding": {"x": {"field": "i", "type": "quantitative", "title": null}, "y": {"field": "b", "type": "quantitative", "title": null}}},
{"data": {"name": "cloud"}, "mark": {"type": "line", "color": "#a874e6", "strokeWidth": 1.5, "clip": true},
 "encoding": {"x": {"field": "i", "type": "quantitative", "title": null}, "y": {"field": "a", "type": "quantitative", "title": null}}},
{"data": {"name": "candles"}, "mark": {"type": "rule", "strokeWidth": 1, "clip": true},
 "encoding": {"x": {"field": "i", "type": "quantitative", "title": null}, "y": {"field": "l", "type": "quantitative", "title": null}, "y2": {"field": "h"},
  "color": {"condition": {"test": "datum.c >= datum.o", "value": "#f21c1c"}, "value": "#1f84e4"}}},
{"data": {"name": "candles"}, "mark": {"type": "rule", "strokeWidth": 2.4, "clip": true},
 "encoding": {"x": {"field": "i", "type": "quantitative", "title": null}, "y": {"field": "o", "type": "quantitative", "title": null}, "y2": {"field": "c"},
  "color": {"condition": {"test": "datum.c >= datum.o", "value": "#f21c1c"}, "value": "#1f84e4"}}},
{"data": {"name": "chikou"}, "mark": {"type": "line", "color": "#7676f4", "strokeWidth": 2, "clip": true},
 "encoding": {"x": {"field": "i", "type": "quantitative", "title": null}, "y": {"field": "p", "type": "quantitative", "title": null}}},
{"data": {"name": "kijun"}, "mark": {"type": "line", "color": "#46bb46", "strokeWidth": 2, "clip": true},
 "encoding": {"x": {"field": "i", "type": "quantitative", "title": null}, "y": {"field": "p", "type": "quantitative", "title": null}}},
{"data": {"name": "tenkan"}, "mark": {"type": "line", "color": "#ff6646", "strokeWidth": 2, "clip": true},
 "encoding": {"x": {"field": "i", "type": "quantitative", "title": null}, "y": {"field": "p", "type": "quantitative", "title": null}}},
{"data": {"values": [{"p": 136.168}]}, "mark": {"type": "rule", "color": "#d9a21b", "strokeDash": [5, 4], "strokeWidth": 1, "clip": true},
 "encoding": {"y": {"field": "p", "type": "quantitative", "title": null}}},
{"data": {"values": [{"p": 136.168}]}, "mark": {"type": "point", "shape": "M0,0L1.23,-1L10,-1L10,1L1.23,1Z", "filled": true, "size": 169, "color": "#f7b500", "opacity": 1, "clip": false},
 "encoding": {"x": {"datum": 243.8}, "y": {"field": "p", "type": "quantitative", "title": null}}},
{"data": {"values": [{"p": 136.168}]}, "mark": {"type": "text", "font": "Lato", "fontSize": 12, "color": "#3a3a3a", "align": "center", "baseline": "middle", "dx": 38, "clip": false},
 "encoding": {"x": {"datum": 243.8}, "y": {"field": "p", "type": "quantitative", "title": null}, "text": {"field": "p", "format": ".3f"}}},
{"data": {"values": [{"t": "一目均衡表 (9, 26, 52)"}]}, "mark": {"type": "text", "font": "Noto Sans CJK JP", "fontSize": 12, "color": "#ff6040", "align": "left", "baseline": "middle", "dx": 2},
 "encoding": {"x": {"datum": -42.7}, "y": {"datum": 158.2}, "text": {"field": "t"}}}
]
},
{
"width": 785,
"height": 89,
"layer": [
{"data": {"name": "hist"}, "mark": {"type": "rule", "color": "#7b7bf2", "strokeWidth": 1.6, "clip": true},
 "encoding": {
  "x": {"field": "i", "type": "quantitative", "title": null, "scale": {"domain": [-42.7, 243.8], "nice": false, "zero": false},
        "axis": {"tickCount": 200, "title": null, "values": [-40,-30,-20,-10,0,10,20,30,40,50,60,70,80,90,100,110,120,130,140,150,160,170,180,190,200,210,220,230,240],
                 "labelExpr": "datum.value === 0 ? '21:15' : datum.value === 50 ? '06/24 01:25' : datum.value === 100 ? '05:35' : datum.value === 150 ? '10:05' : datum.value === 200 ? '14:15' : ''",
                 "labelOverlap": false, "labelFlush": false, "labelFontWeight": "bold", "labelColor": "#dcdcdc", "labelPadding": 7,
                 "tickSize": {"condition": {"test": "datum.value % 50 === 0", "value": 8}, "value": 5},
                 "gridOpacity": {"condition": {"test": "datum.value % 50 === 0", "value": 1}, "value": 0}, "grid": true}},
  "y": {"field": "v", "type": "quantitative", "title": null, "scale": {"domain": [-4.27, 1.16], "nice": false, "zero": false},
        "axis": {"orient": "right", "tickCount": 200, "title": null, "values": [-4,-3.5,-3,-2.5,-2,-1.5,-1,-0.5,0,0.5],
                 "labelExpr": "datum.value === 0 || datum.value === -2.5 ? format(datum.value, '.3f') : ''", "labelOverlap": false, "labelFlush": false, "labelPadding": 5,
                 "tickSize": {"condition": {"test": "datum.value === 0 || datum.value === -2.5", "value": 8}, "value": 5},
                 "gridOpacity": {"condition": {"test": "datum.value === -2.5", "value": 1}, "value": 0}, "grid": true}},
  "y2": {"datum": 0}
 }},
{"data": {"values": [{"a": -8.9, "b": 243.8, "v": 0}]}, "mark": {"type": "rule", "color": "#7b7bf2", "strokeWidth": 1.2, "clip": true},
 "encoding": {"x": {"field": "a", "type": "quantitative", "title": null}, "x2": {"field": "b"}, "y": {"field": "v", "type": "quantitative", "title": null}}},
{"data": {"name": "sig"}, "mark": {"type": "line", "color": "#22d2dc", "strokeWidth": 1.5, "clip": true},
 "encoding": {"x": {"field": "i", "type": "quantitative", "title": null}, "y": {"field": "v", "type": "quantitative", "title": null}}},
{"data": {"name": "macd"}, "mark": {"type": "line", "color": "#e6e612", "strokeWidth": 1.5, "clip": true},
 "encoding": {"x": {"field": "i", "type": "quantitative", "title": null}, "y": {"field": "v", "type": "quantitative", "title": null}}},
{"data": {"values": [{"t": "MACD (12, 26, 9)"}]}, "mark": {"type": "text", "font": "Lato", "fontSize": 12, "fontWeight": "bold", "color": "#e6e600", "align": "left", "baseline": "middle", "dx": 2},
 "encoding": {"x": {"datum": -42.7}, "y": {"datum": 0}, "text": {"field": "t"}}}
]
}
]
}
